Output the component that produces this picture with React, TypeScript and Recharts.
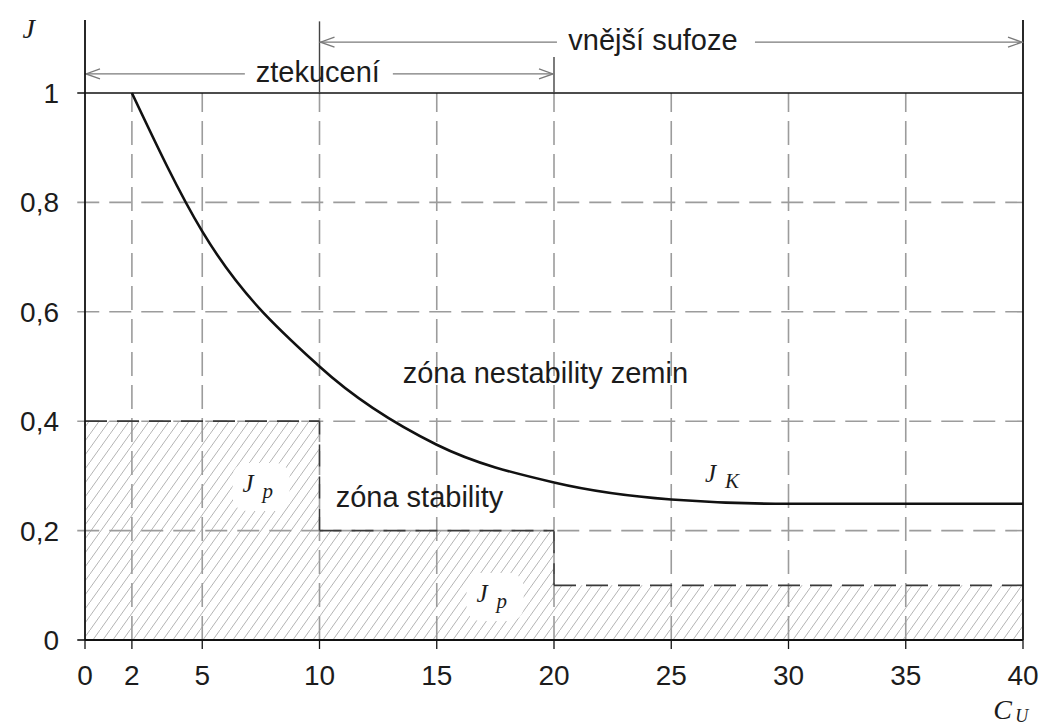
import React from 'react';
import {
  ComposedChart,
  Line,
  XAxis,
  YAxis,
  ReferenceLine,
  ReferenceArea,
  ReferenceDot,
} from 'recharts';

// ---- data ----
const cuValues = [2, 5, 10, 15, 20, 25, 30, 35, 40];
const jkValues = [1.0, 0.747, 0.5, 0.357, 0.288, 0.257, 0.249, 0.249, 0.249];

const xTicks = [0, 2, 5, 10, 15, 20, 25, 30, 35, 40];
const yTicks = [0, 0.2, 0.4, 0.6, 0.8, 1];
const gridX = [2, 5, 10, 15, 20, 25, 30, 35];
const gridY = [0.2, 0.4, 0.6, 0.8];

// stability zones (J_p): from Cu, to Cu, J limit
const zoneFrom = [0, 10, 20];
const zoneTo = [10, 20, 40];
const zoneJ = [0.4, 0.2, 0.1];

// range arrows
const arrowLabels = ['ztekucení', 'vnější sufoze'];
const arrowFrom = [0, 10];
const arrowTo = [20, 40];
const arrowJ = [1.035, 1.093];

const curveData = cuValues.map((x, i) => ({ x, jk: jkValues[i] }));

const Y_MAX = 1.1335;
const SANS = 'Liberation Sans, Arial, Helvetica, sans-serif';
const SERIF = 'Liberation Serif, Times New Roman, serif';
const GRID = '#9c9c9c';
const DARK = '#3a3a3a';
const TXT = '#1c1c1c';

const arrowStyle = [
  { frac: 0.4965, gapL: 73, gapR: 75 },
  { frac: 0.474, gapL: 96, gapR: 102 },
];

const makeArrow = (label: string, idx: number) => (p: any) => {
  const { x1, y1, x2 } = p;
  const xa = Math.min(x1, x2);
  const xb = Math.max(x1, x2);
  const y = y1;
  const st = arrowStyle[idx];
  const cx = xa + (xb - xa) * st.frac;
  const c = '#7a7a7a';
  return (
    <g>
      <line x1={xa} y1={y} x2={cx - st.gapL} y2={y} stroke={c} strokeWidth={1.3} />
      <line x1={cx + st.gapR} y1={y} x2={xb} y2={y} stroke={c} strokeWidth={1.3} />
      <polyline points={`${xa + 15},${y - 5} ${xa + 1},${y} ${xa + 15},${y + 5}`} fill="none" stroke={c} strokeWidth={1.3} />
      <polyline points={`${xb - 15},${y - 5} ${xb - 1},${y} ${xb - 15},${y + 5}`} fill="none" stroke={c} strokeWidth={1.3} />
      <text x={cx} y={y + 8} textAnchor="middle" fontFamily={SANS} fontSize={29} fill={TXT}>
        {label}
      </text>
    </g>
  );
};

// plain text annotations (start x, baseline J)
const plainX = [13.55, 10.69];
const plainJ = [0.47, 0.243];
const plainText = ['zóna nestability zemin', 'zóna stability'];

// symbol annotations: main letter + subscript
const symX = [6.72, 16.7, 26.44];
const symJ = [0.2706, 0.0695, 0.289];
const symMain = ['J', 'J', 'J'];
const symSub = ['p', 'p', 'K'];
const symWhite = [true, true, false];

const plainShape = (txt: string) => (p: any) => (
  <text x={p.cx} y={p.cy} fontFamily={SANS} fontSize={29} fill={TXT}>
    {txt}
  </text>
);

const symShape = (main: string, sub: string, white: boolean) => (p: any) => (
  <g>
    {white && <rect x={p.cx - 10} y={p.cy - 29} width={57} height={48} rx={14} fill="#fff" />}
    <text x={p.cx} y={p.cy} fontFamily={SERIF} fontStyle="italic" fontSize={25} fill={TXT}>
      {main}
    </text>
    <text x={p.cx + 20} y={p.cy + 6} fontFamily={SERIF} fontStyle="italic" fontSize={21} fill={TXT}>
      {sub}
    </text>
  </g>
);

const axisTitleShape = (main: string, sub?: string) => (p: any) => (
  <g>
    <text x={p.cx} y={p.cy} fontFamily={SERIF} fontStyle="italic" fontSize={28} fill={TXT}>
      {main}
    </text>
    {sub && (
      <text x={p.cx + 22} y={p.cy + 3} fontFamily={SERIF} fontStyle="italic" fontSize={18} fill={TXT}>
        {sub}
      </text>
    )}
  </g>
);

export default function App() {
  return (
    <div style={{ position: 'absolute', left: 0, top: 0, width: 1041, height: 728, background: '#fff' }}>
      <ComposedChart
        width={1041}
        height={728}
        data={curveData}
        margin={{ top: 20, right: 18, left: 25, bottom: 48 }}
      >
        <defs>
          <pattern id="hatch" patternUnits="userSpaceOnUse" width={10} height={14}>
            <line x1={-1} y1={15.4} x2={11} y2={-1.4} stroke="#b4b4b4" strokeWidth={1} />
          </pattern>
        </defs>
        <XAxis
          dataKey="x"
          type="number"
          domain={[0, 40]}
          ticks={xTicks}
          height={40}
          tickSize={9}
          tickMargin={16}
          axisLine={{ stroke: '#111', strokeWidth: 1.8 }}
          tickLine={{ stroke: '#111', strokeWidth: 1.3 }}
          tick={{ fontFamily: SANS, fontSize: 28, fill: TXT }}
          interval={0}
        />
        <YAxis
          type="number"
          domain={[0, Y_MAX]}
          allowDataOverflow
          ticks={yTicks}
          width={60}
          tickSize={7}
          tickMargin={19}
          axisLine={{ stroke: '#111', strokeWidth: 1.8 }}
          tickLine={false}
          tick={{ fontFamily: SANS, fontSize: 28, fill: TXT }}
          tickFormatter={(v: number) => String(v).replace('.', ',')}
          interval={0}
        />

        {zoneFrom.map((x1, i) => (
          <ReferenceArea
            key={`z${i}`}
            x1={x1}
            x2={zoneTo[i]}
            y1={0}
            y2={zoneJ[i]}
            fill="url(#hatch)"
            fillOpacity={1}
            stroke="none"
          />
        ))}

        {gridY.map((j) => (
          <ReferenceLine
            key={`gy${j}`}
            segment={[{ x: -0.33, y: j }, { x: 40, y: j }]}
            stroke={GRID}
            strokeWidth={1.6}
            strokeDasharray="22 10"
            ifOverflow="visible"
          />
        ))}
        {gridX.map((x) => (
          <ReferenceLine
            key={`gx${x}`}
            segment={[{ x, y: 0 }, { x, y: 1 }]}
            stroke={GRID}
            strokeWidth={1.6}
            strokeDasharray="24 9"
            ifOverflow="visible"
          />
        ))}

        {zoneFrom.map((x1, i) => (
          <ReferenceLine
            key={`zt${i}`}
            segment={[{ x: x1, y: zoneJ[i] }, { x: zoneTo[i], y: zoneJ[i] }]}
            stroke={DARK}
            strokeWidth={1.7}
            strokeDasharray="22 10"
            ifOverflow="visible"
          />
        ))}
        {zoneFrom.slice(1).map((x, i) => (
          <ReferenceLine
            key={`zv${i}`}
            segment={[{ x, y: zoneJ[i + 1] }, { x, y: zoneJ[i] }]}
            stroke={DARK}
            strokeWidth={1.5}
            strokeDasharray="22 10"
            ifOverflow="visible"
          />
        ))}

        {/* top line J = 1 and ticks at 0 */}
        <ReferenceLine
          segment={[{ x: -0.33, y: 1 }, { x: 40, y: 1 }]}
          stroke="#111"
          strokeWidth={1.6}
          ifOverflow="visible"
        />
        <ReferenceLine
          segment={[{ x: -0.33, y: 0 }, { x: 0, y: 0 }]}
          stroke="#111"
          strokeWidth={1.6}
          ifOverflow="visible"
        />
        <ReferenceLine x={40} stroke="#111" strokeWidth={1.8} ifOverflow="visible" />
        <ReferenceLine
          segment={[{ x: 10, y: 1 }, { x: 10, y: 1.131 }]}
          stroke="#444"
          strokeWidth={1.4}
          ifOverflow="visible"
        />
        <ReferenceLine
          segment={[{ x: 20, y: 1 }, { x: 20, y: 1.066 }]}
          stroke="#444"
          strokeWidth={1.4}
          ifOverflow="visible"
        />

        {arrowLabels.map((lab, i) => (
          <ReferenceLine
            key={`ar${i}`}
            segment={[{ x: arrowFrom[i], y: arrowJ[i] }, { x: arrowTo[i], y: arrowJ[i] }]}
            ifOverflow="visible"
            shape={makeArrow(lab, i)}
          />
        ))}

        <Line
          type="monotone"
          dataKey="jk"
          stroke="#111"
          strokeWidth={2.6}
          dot={false}
          activeDot={false}
          isAnimationActive={false}
        />

        {plainText.map((t, i) => (
          <ReferenceDot
            key={`pt${i}`}
            x={plainX[i]}
            y={plainJ[i]}
            r={1}
            ifOverflow="visible"
            shape={plainShape(t)}
          />
        ))}
        {symMain.map((m, i) => (
          <ReferenceDot
            key={`sy${i}`}
            x={symX[i]}
            y={symJ[i]}
            r={1}
            ifOverflow="visible"
            shape={symShape(m, symSub[i], symWhite[i])}
          />
        ))}
        <ReferenceDot x={-2.67} y={1.1005} r={1} ifOverflow="visible" shape={axisTitleShape('J')} />
        <ReferenceDot x={38.73} y={-0.144} r={1} ifOverflow="visible" shape={axisTitleShape('C', 'U')} />
      </ComposedChart>
    </div>
  );
}
